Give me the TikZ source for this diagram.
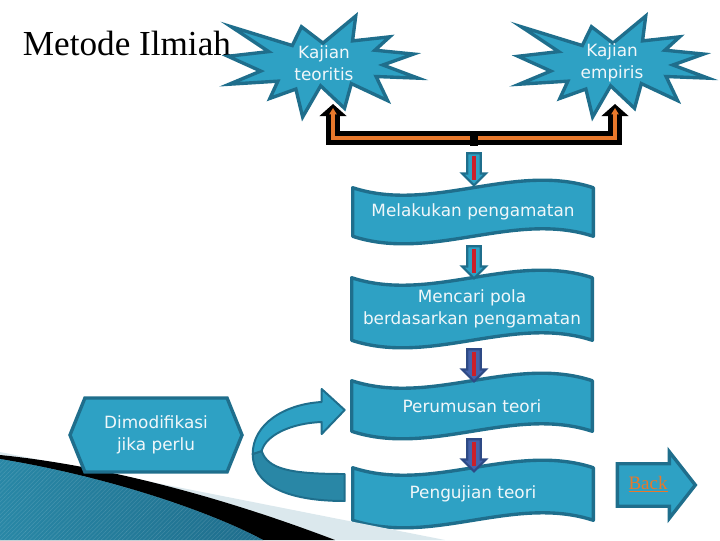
\documentclass[tikz,border=0pt]{standalone}
\usepackage{fontspec}
\setmainfont{Liberation Serif}
\newfontfamily\labelsans{DejaVu Sans}
\usepackage{tikz}
\usetikzlibrary{shapes.symbols,shapes.arrows,arrows.meta,positioning,calc,backgrounds,patterns}
\definecolor{mtteal}{rgb}{0.18,0.63,0.77}
\definecolor{mtdark}{rgb}{0.12,0.43,0.55}
\definecolor{mtdeep}{rgb}{0.16,0.53,0.65}
\definecolor{mtlight}{rgb}{0.42,0.77,0.89}
\definecolor{mtblue}{rgb}{0.27,0.39,0.67}
\definecolor{mtnavy}{rgb}{0.18,0.29,0.52}
\definecolor{mtred}{rgb}{0.80,0.12,0.16}
\definecolor{mtorange}{rgb}{0.91,0.47,0.17}
\definecolor{mtpale}{rgb}{0.86,0.91,0.93}
\definecolor{mttext}{rgb}{0.94,0.97,0.98}

\begin{document}
\begin{tikzpicture}[
  x=0.025cm, y=-0.025cm,
  font=\labelsans\fontsize{12}{15.5}\selectfont,
  banner/.style={minimum width=6cm, align=center, text=mttext, inner sep=0pt},
  wave/.style={draw=mtdark, fill=mtteal, line width=2.4pt, line join=round},
  burst/.style={draw=mtdark, fill=mtteal, line width=2.4pt, line join=miter},
  burstlabel/.style={align=center, text=mttext, inner sep=1pt},
  downarrow/.style={single arrow, shape border rotate=270, draw=mtdark, fill=mtteal,
                    line width=1.6pt, inner sep=0.14cm, minimum height=0.8cm,
                    single arrow head extend=0.13cm},
  redbar/.style={mtred, line width=2.2pt},
  forkline/.style={line width=10.5pt, line join=miter, -{Triangle[length=3mm,width=6.6mm]}},
  forkcore/.style={mtorange, line width=2.2pt, -{Triangle[length=1.6mm,width=1.8mm]}},
  hexa/.style={signal, signal to=west and east, signal pointer angle=136, draw=mtdark,
               fill=mtteal, line width=2.4pt, minimum width=4.3cm, minimum height=1.85cm,
               text=mttext, align=center, inner sep=1pt},
  loopband/.style={draw=mtdark, line width=1.4pt, line join=round},
  backarrow/.style={single arrow, draw=mtdark, fill=mtteal, line width=2.4pt,
                    minimum height=1.95cm, single arrow head extend=0.3cm,
                    single arrow tip angle=104, inner xsep=4pt, inner ysep=0.27cm,
                    text=mtorange, text height=9.5pt, text depth=3pt,
                    font=\rmfamily\fontsize{13.5}{15}\selectfont}
]
\useasboundingbox (0,0) rectangle (720,540);

% --- corner decoration ---
\fill[mtpale] (0,452) -- (445,540) -- (0,540) -- cycle;
\fill[black] (0,455) .. controls (110,466) and (230,500) .. (335,540) -- (263,540)
  .. controls (215,514) and (115,478) .. (0,459) -- cycle;
\fill[left color=mtdeep, middle color=mtlight, right color=mtdark]
  (0,459) .. controls (115,478) and (215,514) .. (263,540) -- (0,540) -- cycle;
\fill[pattern=north east lines, pattern color=white, opacity=0.12]
  (0,459) .. controls (115,478) and (215,514) .. (263,540) -- (0,540) -- cycle;

% --- title ---
\node[anchor=base west, font=\rmfamily\fontsize{25}{30}\selectfont] (title) at (18,55) {Metode Ilmiah};

% --- two starbursts ---
\foreach \bx in {228,518} {
  \begin{scope}[shift={(\bx,16)}, xscale=1.9, yscale=1.01]
    \draw[burst] (50,26.85) -- (67.23,0) -- (65.53,24.65) -- (85.09,20.63) -- (77.32,33.87)
      -- (97.67,37.67) -- (81.51,48.50) -- (100,61.53) -- (77.95,59.92) -- (84.00,83.77)
      -- (64.91,66.93) -- (61.33,91.38) -- (48.76,69.14) -- (39.28,100) -- (35.72,72.35)
      -- (22.05,81.56) -- (26.24,64.52) -- (0.63,67.53) -- (17.23,54.51) -- (0,39.88)
      -- (21.42,35.26) -- (1.71,10.63) -- (33.85,29.26) -- (38.67,10.63) -- cycle;
  \end{scope}
}
\node[burstlabel] (teori) at (324,63) {Kajian\\teoritis};
\node[burstlabel] (empiri) at (612,63) {Kajian\\empiris};

% --- fork joining both sources ---
\coordinate (fork) at (474,138);
\coordinate (teori-in) at (333,104);
\coordinate (empiri-in) at (615,104);
\fill (470,138) rectangle (478,146);
\draw[forkline] (fork) -| (teori-in);
\draw[forkline] (fork) -| (empiri-in);
\draw[forkcore] ($(fork)+(-4,0)$) -| ($(teori-in)+(0,4)$);
\draw[forkcore] ($(fork)+(4,0)$) -| ($(empiri-in)+(0,4)$);

% --- steps ---
\node[banner, minimum height=1.2cm] (obs) at (473,212) {Melakukan pengamatan};
\node[banner, minimum height=1.55cm] (pola) at (472,309) {Mencari pola\\berdasarkan pengamatan};
\node[banner, minimum height=1.25cm] (rumus) at (472,406) {Perumusan teori};
\node[banner, minimum height=1.3cm] (uji) at (473,494) {Pengujian teori};

\begin{scope}[on background layer]
  \foreach \b in {obs,pola,rumus,uji} {
    \draw[wave] (\b.north west)
      .. controls ($(\b.north west)!0.33!(\b.north east)+(0,26)$)
      and ($(\b.north west)!0.67!(\b.north east)+(0,-26)$) .. (\b.north east)
      -- (\b.south east)
      .. controls ($(\b.south west)!0.67!(\b.south east)+(0,-26)$)
      and ($(\b.south west)!0.33!(\b.south east)+(0,26)$) .. (\b.south west) -- cycle;
  }
\end{scope}

% block arrows between the steps
\node[downarrow] (a1) at (474,166) {};
\node[downarrow] (a2) at (474,259) {};
\node[downarrow, fill=mtblue, draw=mtnavy] (a3) at (474,362) {};
\node[downarrow, fill=mtblue, draw=mtnavy] (a4) at (474,452) {};
\foreach \a in {a1,a2,a3,a4} {
  \draw[redbar] ($(\a.tail)!0.1!(\a.tip)$) -- ($(\a.tail)!0.8!(\a.tip)$);
}

% --- modification loop ---
\node[hexa] (modif) at (156,435) {Dimodifikasi\\jika perlu};
\coordinate (loop-tip) at ($(rumus.west)+(-7,4)$);
\begin{scope}[shift={(loop-tip)}]
  \draw[loopband, fill=mtdeep] (0,64) -- (0,91) .. controls (-60,91) and (-92,74) .. (-92,44)
    -- (-83,41) .. controls (-77,59) and (-55,64) .. (0,64) -- cycle;
  \draw[loopband, fill=mtteal] (-92,44) .. controls (-92,14) and (-60,-6) .. (-23,-8)
    -- (-23,-21) -- (0,0) -- (-23,24) -- (-23,12)
    .. controls (-53,13) and (-79,25) .. (-83,41) -- cycle;
\end{scope}

% --- back button ---
\node[backarrow] (back) at (648,485) {\underline{Back}};

\end{tikzpicture}
\end{document}
